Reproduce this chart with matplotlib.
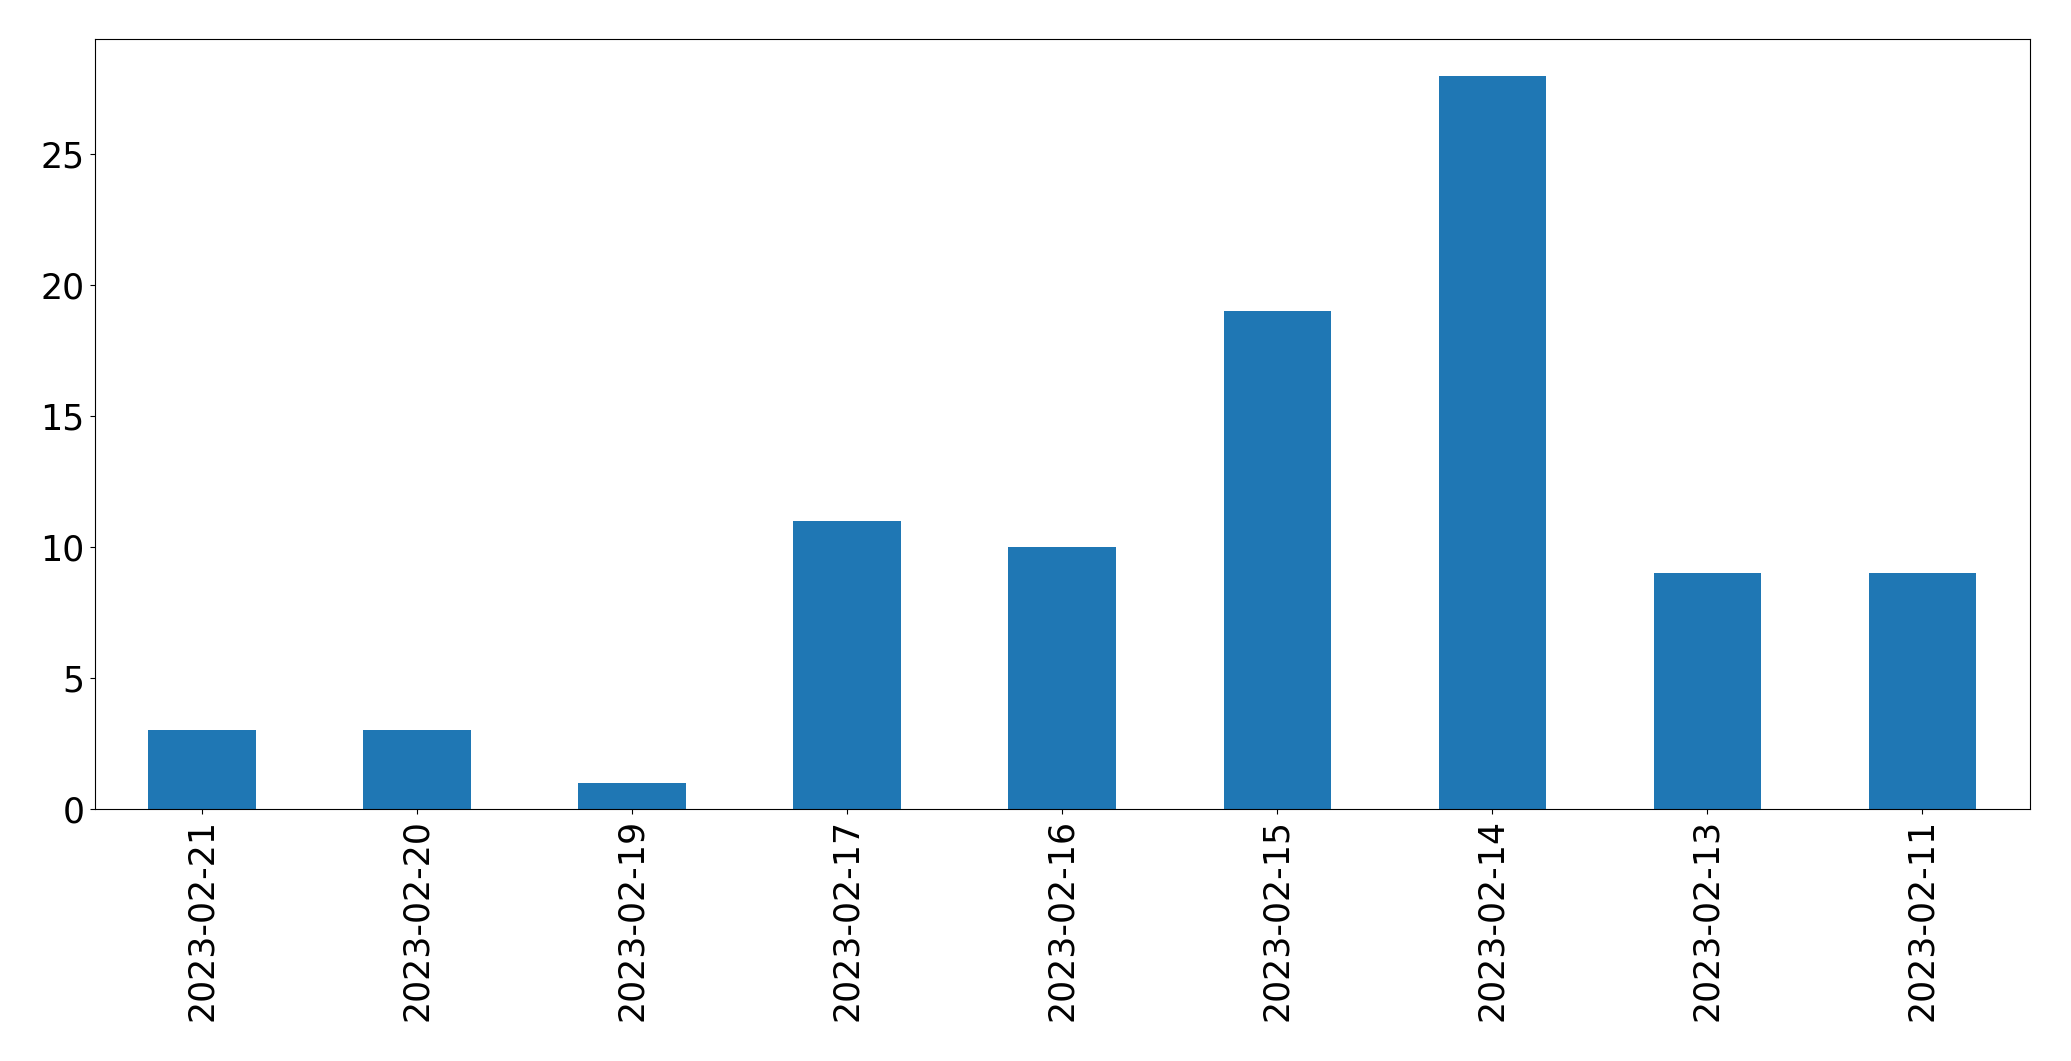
import matplotlib
matplotlib.use("Agg")
import matplotlib.pyplot as plt

dates = ["2023-02-21", "2023-02-20", "2023-02-19", "2023-02-17", "2023-02-16",
         "2023-02-15", "2023-02-14", "2023-02-13", "2023-02-11"]
counts = [3, 3, 1, 11, 10, 19, 28, 9, 9]

fig = plt.figure(figsize=(20.71, 10.61), dpi=100)
ax = fig.add_axes([94.5/2071, 1 - 809/1061, (2030-94.5)/2071, (809-39)/1061])
x = list(range(len(dates)))
ax.bar(x, counts, width=0.5, color="#1f77b4")
ax.set_xlim(-0.5, len(dates) - 0.5)
ax.set_ylim(0, max(counts) * 1.05)
ax.set_xticks(x)
ax.set_xticklabels(dates, rotation=90)
ax.set_yticks([0, 5, 10, 15, 20, 25])
ax.tick_params(axis="both", labelsize=25)
fig.savefig("out.png", dpi=100)
